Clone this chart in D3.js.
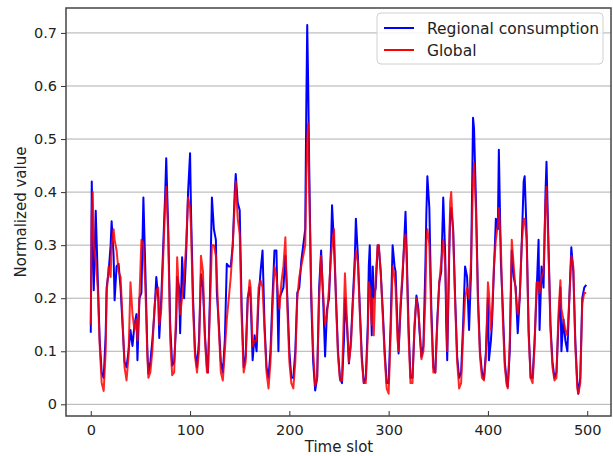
<!DOCTYPE html>
<html>
<head>
<meta charset="utf-8">
<script src="https://cdn.jsdelivr.net/npm/d3@7"></script>
<style>
body { margin: 0; background: #fff; }
text { font-family: "DejaVu Sans", sans-serif; }
</style>
</head>
<body>
<script>
var svgWidth = 613;
var svgHeight = 456;

var margin = { top: 8, right: 2, bottom: 40, left: 66 };
var chartWidth = svgWidth - margin.left - margin.right;
var chartHeight = svgHeight - margin.bottom - margin.top;

// time slots (key points)
var timeSlots = [0,1,2,3,5,7,9,11,13,15,16,18,20,21,23,24,26,28,30,32,34,36,38,40,42,44,46,47,49,51,53,55,57,58,60,62,64,66,68,69,71,73,75,76,78,80,82,84,86,87,89,90,92,94,96,98,100,101,103,105,107,109,111,113,115,117,118,120,122,124,126,127,129,131,133,135,137,139,141,143,145,146,148,150,152,154,156,158,160,161,163,165,167,169,171,173,175,177,179,181,183,185,187,189,190,192,194,196,198,200,202,204,206,208,210,212,214,216,217,218,219,220,222,224,226,228,230,232,234,236,238,240,242,243,245,247,249,251,253,255,256,258,260,262,264,266,267,269,271,273,275,277,279,280,281,283,284,285,287,289,290,292,294,296,298,300,302,304,306,307,309,310,312,314,316,317,318,320,322,324,326,328,330,331,333,335,337,338,339,341,343,345,347,349,351,353,355,357,358,359,361,362,363,365,367,369,371,373,375,377,379,381,383,385,386,388,390,392,394,396,398,400,401,403,404,406,408,410,411,413,415,417,419,420,422,424,426,428,430,432,434,436,437,439,441,443,445,447,449,451,452,454,456,458,459,461,463,465,467,469,471,473,474,476,478,480,482,484,486,488,490,491,493,495,497,499];

var regional = [0.135,0.42,0.30,0.215,0.365,0.24,0.12,0.06,0.05,0.13,0.22,0.25,0.30,0.345,0.28,0.196,0.26,0.265,0.22,0.15,0.08,0.07,0.10,0.14,0.11,0.15,0.17,0.083,0.20,0.21,0.39,0.25,0.10,0.058,0.08,0.12,0.17,0.24,0.20,0.125,0.20,0.30,0.40,0.464,0.33,0.15,0.073,0.08,0.15,0.24,0.22,0.134,0.277,0.20,0.28,0.40,0.473,0.36,0.20,0.10,0.07,0.12,0.245,0.22,0.13,0.07,0.06,0.20,0.39,0.33,0.31,0.21,0.15,0.08,0.06,0.12,0.265,0.26,0.26,0.30,0.40,0.434,0.38,0.366,0.18,0.07,0.09,0.20,0.22,0.20,0.083,0.13,0.10,0.20,0.25,0.29,0.15,0.07,0.05,0.10,0.20,0.29,0.29,0.10,0.20,0.21,0.22,0.28,0.20,0.10,0.05,0.05,0.10,0.21,0.22,0.27,0.30,0.33,0.55,0.715,0.60,0.45,0.20,0.08,0.026,0.05,0.22,0.29,0.20,0.09,0.18,0.20,0.30,0.375,0.30,0.20,0.10,0.05,0.04,0.12,0.20,0.15,0.077,0.12,0.20,0.28,0.35,0.28,0.18,0.09,0.04,0.05,0.15,0.26,0.30,0.13,0.26,0.20,0.22,0.30,0.30,0.25,0.18,0.10,0.04,0.04,0.15,0.30,0.26,0.25,0.14,0.096,0.18,0.24,0.32,0.363,0.30,0.15,0.05,0.05,0.14,0.205,0.18,0.14,0.09,0.11,0.26,0.36,0.43,0.37,0.18,0.07,0.06,0.16,0.23,0.25,0.39,0.28,0.15,0.083,0.28,0.36,0.37,0.33,0.20,0.09,0.05,0.06,0.15,0.26,0.24,0.14,0.25,0.54,0.52,0.38,0.20,0.10,0.06,0.048,0.10,0.20,0.083,0.12,0.15,0.25,0.35,0.33,0.48,0.27,0.18,0.08,0.04,0.033,0.10,0.29,0.24,0.22,0.134,0.20,0.30,0.42,0.43,0.32,0.14,0.05,0.05,0.12,0.21,0.31,0.14,0.26,0.22,0.40,0.457,0.30,0.15,0.08,0.05,0.06,0.15,0.22,0.10,0.16,0.12,0.10,0.20,0.296,0.25,0.12,0.04,0.02,0.05,0.20,0.22,0.225];

var global = [0.15,0.36,0.40,0.30,0.27,0.22,0.11,0.04,0.025,0.10,0.21,0.26,0.24,0.30,0.33,0.31,0.29,0.25,0.24,0.16,0.07,0.045,0.09,0.23,0.17,0.14,0.16,0.12,0.20,0.31,0.30,0.22,0.09,0.05,0.06,0.10,0.18,0.215,0.22,0.15,0.18,0.28,0.38,0.41,0.32,0.12,0.055,0.06,0.18,0.277,0.20,0.17,0.20,0.24,0.30,0.39,0.37,0.33,0.18,0.09,0.06,0.10,0.28,0.25,0.12,0.06,0.06,0.18,0.30,0.30,0.28,0.24,0.14,0.06,0.045,0.10,0.16,0.20,0.24,0.30,0.38,0.42,0.35,0.32,0.16,0.06,0.08,0.19,0.234,0.22,0.11,0.12,0.12,0.22,0.234,0.22,0.14,0.06,0.03,0.08,0.18,0.26,0.24,0.20,0.18,0.23,0.26,0.315,0.18,0.08,0.04,0.03,0.08,0.20,0.24,0.26,0.28,0.30,0.42,0.50,0.53,0.40,0.22,0.10,0.035,0.05,0.20,0.28,0.21,0.15,0.17,0.22,0.28,0.30,0.33,0.19,0.09,0.045,0.045,0.18,0.247,0.16,0.08,0.11,0.19,0.26,0.29,0.27,0.17,0.08,0.04,0.04,0.13,0.23,0.22,0.15,0.20,0.13,0.24,0.30,0.30,0.25,0.17,0.09,0.03,0.02,0.13,0.26,0.24,0.22,0.12,0.10,0.19,0.25,0.31,0.32,0.28,0.13,0.04,0.04,0.15,0.20,0.17,0.15,0.085,0.10,0.20,0.31,0.33,0.30,0.16,0.06,0.06,0.15,0.23,0.27,0.31,0.26,0.19,0.10,0.30,0.38,0.40,0.32,0.19,0.08,0.03,0.04,0.13,0.20,0.22,0.20,0.27,0.42,0.455,0.36,0.19,0.09,0.05,0.045,0.09,0.23,0.21,0.14,0.16,0.26,0.31,0.34,0.37,0.30,0.16,0.07,0.035,0.03,0.12,0.31,0.26,0.21,0.17,0.20,0.30,0.35,0.35,0.31,0.13,0.05,0.04,0.11,0.23,0.23,0.21,0.24,0.25,0.38,0.41,0.29,0.14,0.07,0.045,0.05,0.17,0.234,0.18,0.16,0.14,0.13,0.20,0.28,0.26,0.11,0.03,0.02,0.04,0.19,0.21,0.21];

var xTicks = [0, 100, 200, 300, 400, 500];
var yTicks = [0, 0.1, 0.2, 0.3, 0.4, 0.5, 0.6, 0.7];
var seriesNames = ["Regional consumption", "Global"];
var seriesColors = ["#0000ff", "#ff0000"];

var svg = d3.select("body").append("svg")
    .attr("width", svgWidth)
    .attr("height", svgHeight);

var chartGroup = svg.append("g")
    .attr("transform", `translate(${margin.left}, ${margin.top})`);

// matplotlib style 5% padding
var xScale = d3.scaleLinear().domain([-24.95, 523.95]).range([0, chartWidth]);
var yScale = d3.scaleLinear().domain([-0.022, 0.747]).range([chartHeight, 0]);

// horizontal grid
chartGroup.selectAll(".grid")
    .data(yTicks)
    .enter().append("line")
    .attr("class", "grid")
    .attr("x1", 0).attr("x2", chartWidth)
    .attr("y1", d => yScale(d)).attr("y2", d => yScale(d))
    .style("stroke", "#b0b0b0")
    .style("stroke-width", 1);

// lines
var series = [regional, global];
series.forEach((vals, i) => {
    var line = d3.line()
        .x((d, j) => xScale(timeSlots[j]))
        .y(d => yScale(d));
    chartGroup.append("path")
        .datum(vals)
        .attr("d", line)
        .style("fill", "none")
        .style("stroke", seriesColors[i])
        .style("stroke-width", 2)
        .style("stroke-linejoin", "round")
        .style("opacity", i == 1 ? 0.85 : 1);
});

// axes
var xAxis = d3.axisBottom(xScale).tickValues(xTicks).tickSize(-5).tickPadding(9);
var yAxis = d3.axisLeft(yScale).tickValues(yTicks).tickFormat(d => d === 0 ? "0" : d3.format(".1f")(d)).tickSize(5).tickPadding(4);

var gx = chartGroup.append("g")
    .attr("transform", `translate(0, ${chartHeight})`)
    .call(xAxis);
var gy = chartGroup.append("g").call(yAxis);

[gx, gy].forEach(g => {
    g.select(".domain").remove();
    g.selectAll("line").style("stroke", "#333");
    g.selectAll("text").style("font-size", "14.5px").style("fill", "#222");
});

// frame
chartGroup.append("rect")
    .attr("width", chartWidth)
    .attr("height", chartHeight)
    .style("fill", "none")
    .style("stroke", "#444")
    .style("stroke-width", 1.5);

// axis titles
svg.append("text")
    .attr("x", margin.left + xScale(250))
    .attr("y", 452)
    .attr("text-anchor", "middle")
    .style("font-size", "15px")
    .style("fill", "#222")
    .text("Time slot");

svg.append("text")
    .attr("transform", `translate(26, ${margin.top + chartHeight / 2}) rotate(-90)`)
    .attr("text-anchor", "middle")
    .style("font-size", "15px")
    .style("fill", "#222")
    .text("Normalized value");

// legend
var legend = svg.append("g").attr("transform", "translate(377, 13)");
legend.append("rect")
    .attr("width", 226).attr("height", 51)
    .attr("rx", 4)
    .style("fill", "#fff").style("fill-opacity", 0.85)
    .style("stroke", "#d0d0d0");

seriesNames.forEach((name, i) => {
    legend.append("line")
        .attr("x1", 7).attr("x2", 37)
        .attr("y1", 15 + i * 22).attr("y2", 15 + i * 22)
        .style("stroke", seriesColors[i])
        .style("stroke-width", 2);
    legend.append("text")
        .attr("x", 50).attr("y", 20.5 + i * 22)
        .style("font-size", "15.5px")
        .style("fill", "#222")
        .text(name);
});
</script>
</body>
</html>
